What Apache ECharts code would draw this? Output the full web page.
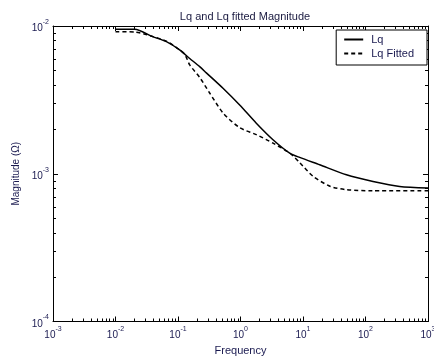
<!DOCTYPE html>
<html>
<head>
<meta charset="utf-8">
<script src="https://cdn.jsdelivr.net/npm/echarts@6/dist/echarts.min.js"></script>
<style>
html,body{margin:0;padding:0;background:#fff;}
#c{width:434px;height:357px;}
</style>
</head>
<body>
<div id="c"></div>
<script>
// Data
var lqFreq = [0.01, 0.0203, 0.0394, 0.0652, 0.106, 0.154, 0.222, 0.284, 0.525, 0.97, 1.79, 3.31, 6.12, 8.85, 18.5, 49.5, 132, 352, 1000];
var lqMag  = [0.0095, 0.0095, 0.00847, 0.00783, 0.00689, 0.00603, 0.00531, 0.00482, 0.00379, 0.00292, 0.0022, 0.0017, 0.00138, 0.00129, 0.00115, 0.000984, 0.000887, 0.00082, 0.0008];
var fitFreq = [0.01, 0.0203, 0.0394, 0.0652, 0.106, 0.13, 0.154, 0.222, 0.321, 0.525, 0.97, 1.79, 3.31, 6.12, 8.85, 14.5, 27.5, 49.5, 131, 1000];
var fitMag  = [0.00915, 0.00911, 0.0085, 0.0079, 0.0069, 0.00637, 0.00545, 0.00449, 0.00352, 0.00258, 0.00205, 0.00184, 0.00161, 0.00138, 0.00119, 0.00096, 0.00082, 0.00078, 0.000767, 0.000767];
var seriesNames = ['Lq', 'Lq Fitted'];
var xRange = [0.001, 1000];
var yRange = [0.0001, 0.01];

function pairs(xs, ys){ return xs.map(function(x,i){ return [x, ys[i]]; }); }
function minorValues(range){
  var out = [];
  var e0 = Math.round(Math.log10(range[0])), e1 = Math.round(Math.log10(range[1]));
  for (var e = e0; e < e1; e++) for (var k = 2; k <= 9; k++) out.push(k * Math.pow(10, e));
  return out;
}
var xMinor = minorValues(xRange);
var yMinor = minorValues(yRange);

var labelColor = '#1a1a50';
var rich = {
  b: {fontSize: 10, fontFamily: 'Liberation Sans', color: labelColor, verticalAlign: 'bottom', lineHeight: 15},
  s: {fontSize: 7, fontFamily: 'Liberation Sans', color: labelColor, verticalAlign: 'top', lineHeight: 15}
};
function fmt(v){
  var e = Math.round(Math.log10(v));
  return '{b|10}{s|' + e + '}';
}
function ax(extra){
  return Object.assign({
    type: 'log', logBase: 10,
    axisLine: {show: true, lineStyle: {color: '#000', width: 1}},
    axisTick: {show: true, inside: true, length: 5, lineStyle: {color: '#000', width: 1}},
    minorTick: {show: false},
    splitLine: {show: false}
  }, extra);
}
var MINOR_LEN = 3;
function xTickItem(params, api){
  var v = api.value(0);
  var pb = api.coord([v, yRange[0]]);
  var pt = api.coord([v, yRange[1]]);
  var st = {stroke: '#000', lineWidth: 1};
  return {type: 'group', children: [
    {type: 'line', shape: {x1: Math.round(pb[0]) + 0.5, y1: pb[1], x2: Math.round(pb[0]) + 0.5, y2: pb[1] - MINOR_LEN}, style: st},
    {type: 'line', shape: {x1: Math.round(pt[0]) + 0.5, y1: pt[1], x2: Math.round(pt[0]) + 0.5, y2: pt[1] + MINOR_LEN}, style: st}
  ]};
}
function yTickItem(params, api){
  var v = api.value(1);
  var pl = api.coord([xRange[0], v]);
  var pr = api.coord([xRange[1], v]);
  var st = {stroke: '#000', lineWidth: 1};
  return {type: 'group', children: [
    {type: 'line', shape: {x1: pl[0], y1: Math.round(pl[1]) + 0.5, x2: pl[0] + MINOR_LEN, y2: Math.round(pl[1]) + 0.5}, style: st},
    {type: 'line', shape: {x1: pr[0], y1: Math.round(pr[1]) + 0.5, x2: pr[0] - MINOR_LEN, y2: Math.round(pr[1]) + 0.5}, style: st}
  ]};
}

var chart = echarts.init(document.getElementById('c'), null, {renderer: 'canvas'});
chart.setOption({
  animation: false,
  backgroundColor: '#fff',
  title: {
    text: 'Lq and Lq fitted Magnitude', left: 240, top: 6, textAlign: 'center',
    textStyle: {fontSize: 11, fontWeight: 'normal', fontFamily: 'Liberation Sans', color: '#1a1a40'}
  },
  grid: {left: 53, right: 6, top: 26, bottom: 35.5, containLabel: false, outerBoundsMode: 'none'},
  legend: {
    orient: 'vertical', right: 7, top: 30,
    backgroundColor: '#fff', borderColor: '#000', borderWidth: 1,
    padding: [4, 13, 6, 7], itemGap: 3, itemWidth: 19, itemHeight: 12,
    itemStyle: {opacity: 0},
    textStyle: {fontSize: 11, fontFamily: 'Liberation Sans', color: labelColor, padding: [0, 0, 0, 3]},
    data: seriesNames
  },
  xAxis: [
    ax({min: xRange[0], max: xRange[1], position: 'bottom',
      name: 'Frequency', nameLocation: 'middle', nameGap: 22,
      nameTextStyle: {fontSize: 11, fontFamily: 'Liberation Sans', color: labelColor},
      axisLabel: {formatter: fmt, rich: rich, margin: 4, showMinLabel: true, showMaxLabel: true}}),
    ax({min: xRange[0], max: xRange[1], position: 'top', axisLabel: {show: false}})
  ],
  yAxis: [
    ax({min: yRange[0], max: yRange[1], position: 'left',
      name: 'Magnitude (Ω)', nameLocation: 'middle', nameGap: 30, nameRotate: 90,
      nameTextStyle: {fontSize: 10, fontFamily: 'Liberation Sans', color: labelColor},
      axisLabel: {formatter: fmt, rich: rich, margin: 4}}),
    ax({min: yRange[0], max: yRange[1], position: 'right', axisLabel: {show: false}})
  ],
  series: [
    {name: seriesNames[0], type: 'line', data: pairs(lqFreq, lqMag), symbol: 'none', smooth: 0.25,
     lineStyle: {color: '#000', width: 1.5, type: 'solid'}, itemStyle: {color: '#000'}},
    {name: seriesNames[1], type: 'line', data: pairs(fitFreq, fitMag), symbol: 'none', smooth: 0.25,
     lineStyle: {color: '#000', width: 1.5, type: [4, 3]}, itemStyle: {color: '#000'}},
    {name: 'xminor', type: 'custom', coordinateSystem: 'cartesian2d', silent: true, clip: false,
     data: xMinor.map(function(v){ return [v, yRange[0]]; }), renderItem: xTickItem},
    {name: 'yminor', type: 'custom', coordinateSystem: 'cartesian2d', silent: true, clip: false,
     data: yMinor.map(function(v){ return [xRange[0], v]; }), renderItem: yTickItem}
  ]
});
</script>
</body>
</html>
